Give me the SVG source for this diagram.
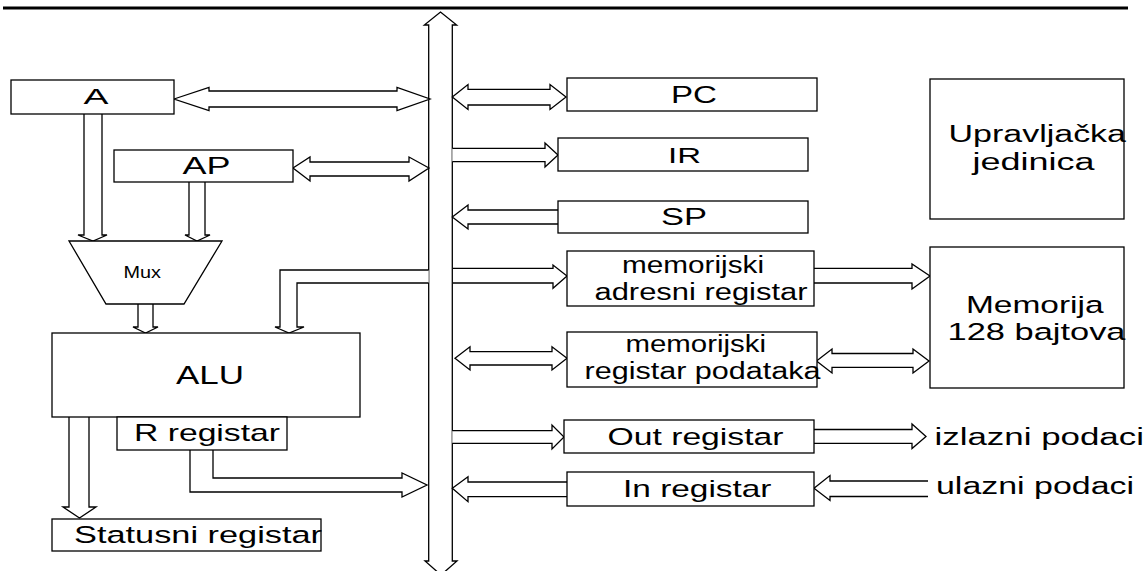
<svg xmlns="http://www.w3.org/2000/svg" width="1147" height="571" viewBox="0 0 1147 571">
<style>
.box{fill:#fff;stroke:#000;stroke-width:1.3}
.arr{fill:#fff;stroke:#000;stroke-width:1.3;stroke-linejoin:miter}
.t{font-family:"Liberation Sans",Arial,sans-serif;fill:#000}
</style>
<rect width="1147" height="571" fill="#fff"/>
<line x1="3" y1="8" x2="1128" y2="8" stroke="#000" stroke-width="3.2"/>
<g id="connectors">
  <!-- bus -->
  <path class="arr" d="M428.7,25 L424.3,25 L440.5,12 L456.7,25 L452.3,25 L452.3,561 L457,561 L441,575 L425,561 L428.7,561 Z"/>
  <!-- A <-> bus -->
  <path class="arr" d="M174,99 L209,87.5 L209,91 L397,91 L397,87.5 L430,99 L397,110.5 L397,107 L209,107 L209,110.5 Z"/>
  <!-- AP <-> bus -->
  <path class="arr" d="M293,168 L310,157 L310,162 L409,162 L409,157 L429,168 L409,181 L409,176 L310,176 L310,181 Z"/>
  <!-- A -> Mux -->
  <path class="arr" d="M84,114 L84,235 L78,235 L93,241 L107,235 L102,235 L102,114"/>
  <!-- AP -> Mux -->
  <path class="arr" d="M189,182 L189,235 L185,235 L197,241 L210,235 L205,235 L205,182"/>
  <!-- Mux -> ALU -->
  <path class="arr" d="M138,304 L138,327 L133,327 L145.5,333 L158,327 L153,327 L153,304"/>
  <!-- bus -> ALU -->
  <path class="arr" d="M428.7,270 L280,270 L280,327 L275,327 L289,333 L304,327 L297,327 L297,283 L428.7,283"/>
  <!-- ALU -> Statusni -->
  <path class="arr" d="M69,417 L69,507 L63,507 L79.5,518 L96,507 L89,507 L89,417"/>
  <!-- R registar -> bus -->
  <path class="arr" d="M190,450 L190,492 L402,492 L402,497 L427,485 L402,473 L402,478 L213,478 L213,450"/>
  <!-- PC <-> bus -->
  <path class="arr" d="M452.3,97 L468,84.5 L468,89.3 L550,89.3 L550,84.5 L566,97 L550,109.5 L550,105 L468,105 L468,109.5 Z"/>
  <!-- bus -> IR -->
  <path class="arr" d="M452.3,148.3 L545,148.3 L545,143 L558,155 L545,167 L545,161.7 L452.3,161.7"/>
  <!-- SP -> bus -->
  <path class="arr" d="M558,210 L468,210 L468,205 L452.3,217 L468,229 L468,224 L558,224"/>
  <!-- bus -> MAR -->
  <path class="arr" d="M453,268.3 L553,268.3 L553,265 L567,276 L553,288.3 L553,283 L453,283"/>
  <!-- MAR -> Memorija -->
  <path class="arr" d="M814,268.3 L912,268.3 L912,264 L930,276 L912,289 L912,283 L814,283"/>
  <!-- bus <-> MDR -->
  <path class="arr" d="M455,358.3 L470,346.7 L470,351.7 L552,351.7 L552,346.7 L567,358.3 L552,370 L552,365 L470,365 L470,370 Z"/>
  <!-- MDR <-> Memorija -->
  <path class="arr" d="M816.5,361 L832,349 L832,353.5 L913,353.5 L913,349 L929,361 L913,373 L913,367.3 L832,367.3 L832,373 Z"/>
  <!-- bus -> Out -->
  <path class="arr" d="M452.3,430.7 L552,430.7 L552,425 L564,437 L552,449 L552,443.3 L452.3,443.3"/>
  <!-- Out -> izlazni -->
  <path class="arr" d="M814,429.5 L912,429.5 L912,424 L926,436.5 L912,448.5 L912,443.3 L814,443.3"/>
  <!-- In -> bus -->
  <path class="arr" d="M567,482 L468,482 L468,476.7 L452.3,488.3 L468,501.7 L468,496.7 L567,496.7"/>
  <!-- ulazni -> In -->
  <path class="arr" d="M928,481 L830,481 L830,475.5 L814,488.3 L830,500.5 L830,496.5 L928,496.5"/>
</g>
<g id="node-A"><rect class="box" x="11" y="80" width="163" height="34"/><text class="t" x="83.5" y="104" font-size="22" textLength="25" lengthAdjust="spacingAndGlyphs">A</text></g>
<g id="node-AP"><rect class="box" x="114" y="150" width="179" height="32"/><text class="t" x="182.5" y="173.5" font-size="24" textLength="48" lengthAdjust="spacingAndGlyphs">AP</text></g>
<g id="node-Mux"><polygon class="box" points="69,241 222,241 184,304 106,304"/><text class="t" x="123.5" y="277.5" font-size="17" textLength="37.5" lengthAdjust="spacingAndGlyphs">Mux</text></g>
<g id="node-ALU"><rect class="box" x="52" y="333" width="308" height="84"/><text class="t" x="176" y="384" font-size="26" textLength="68" lengthAdjust="spacingAndGlyphs">ALU</text></g>
<g id="node-R"><rect class="box" x="117" y="417" width="170" height="33"/><text class="t" x="134" y="441" font-size="24" textLength="146" lengthAdjust="spacingAndGlyphs">R registar</text></g>
<g id="node-Status"><rect class="box" x="52" y="519" width="269" height="32"/><text class="t" x="74" y="543" font-size="24.5" textLength="248" lengthAdjust="spacingAndGlyphs">Statusni registar</text></g>
<g id="node-PC"><rect class="box" x="567" y="78" width="250" height="33"/><text class="t" x="671" y="103" font-size="23.5" textLength="46" lengthAdjust="spacingAndGlyphs">PC</text></g>
<g id="node-IR"><rect class="box" x="558" y="138" width="250" height="33"/><text class="t" x="668" y="163" font-size="22.5" textLength="33" lengthAdjust="spacingAndGlyphs">IR</text></g>
<g id="node-SP"><rect class="box" x="558" y="201" width="250" height="32"/><text class="t" x="661" y="225" font-size="24" textLength="46" lengthAdjust="spacingAndGlyphs">SP</text></g>
<g id="node-MAR"><rect class="box" x="567" y="251" width="247" height="55"/><text class="t" x="622" y="273" font-size="23" textLength="142" lengthAdjust="spacingAndGlyphs">memorijski</text><text class="t" x="594.5" y="299.5" font-size="23" textLength="213" lengthAdjust="spacingAndGlyphs">adresni registar</text></g>
<g id="node-MDR"><rect class="box" x="567" y="332" width="250" height="55"/><text class="t" x="625.5" y="352" font-size="23" textLength="140.5" lengthAdjust="spacingAndGlyphs">memorijski</text><text class="t" x="584.5" y="378.5" font-size="23" textLength="236" lengthAdjust="spacingAndGlyphs">registar podataka</text></g>
<g id="node-Out"><rect class="box" x="564" y="420" width="250" height="33"/><text class="t" x="607.5" y="444.5" font-size="24.5" textLength="176" lengthAdjust="spacingAndGlyphs">Out registar</text></g>
<g id="node-In"><rect class="box" x="567" y="472" width="247" height="34"/><text class="t" x="623" y="497" font-size="24" textLength="148.5" lengthAdjust="spacingAndGlyphs">In registar</text></g>
<g id="node-Upr"><rect class="box" x="930" y="79" width="194" height="140"/><text class="t" x="948.5" y="142" font-size="23" textLength="177.5" lengthAdjust="spacingAndGlyphs">Upravljačka</text><text class="t" x="972.5" y="170" font-size="23" textLength="122" lengthAdjust="spacingAndGlyphs">jedinica</text></g>
<g id="node-Mem"><rect class="box" x="930" y="247" width="194" height="141"/><text class="t" x="966" y="313" font-size="24.5" textLength="137.5" lengthAdjust="spacingAndGlyphs">Memorija</text><text class="t" x="947.5" y="340" font-size="24.5" textLength="178" lengthAdjust="spacingAndGlyphs">128 bajtova</text></g>
<g id="label-izlazni"><text class="t" x="934.5" y="445" font-size="23" textLength="209.5" lengthAdjust="spacingAndGlyphs">izlazni podaci</text></g>
<g id="label-ulazni"><text class="t" x="936" y="494" font-size="23" textLength="198" lengthAdjust="spacingAndGlyphs">ulazni podaci</text></g>
</svg>
